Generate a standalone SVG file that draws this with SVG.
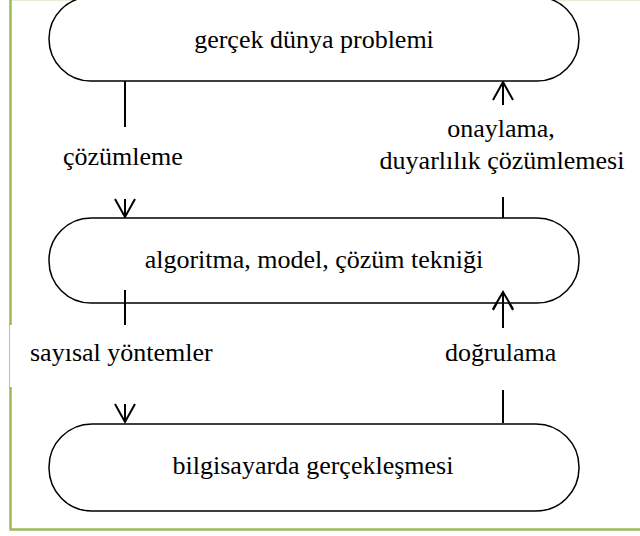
<svg xmlns="http://www.w3.org/2000/svg" width="640" height="536" viewBox="0 0 640 536">
  <defs>
    <style>
      .box { fill: #ffffff; stroke: #000000; stroke-width: 1.5; }
      .wire { stroke: #000000; stroke-width: 2; fill: none; }
      .frame { fill: none; stroke: #9bbb59; stroke-width: 2.5; }
    </style>
    <marker id="open" viewBox="0 0 20 20" refX="18" refY="10" markerWidth="20" markerHeight="20" markerUnits="userSpaceOnUse" orient="auto" overflow="visible">
      <path d="M0,0 L18,10 L0,20" fill="none" stroke="#000000" stroke-width="2"/>
    </marker>
  </defs>

  <rect width="640" height="536" fill="#ffffff"/>

  <!-- outer frame -->
  <rect class="frame" x="10.5" y="-1" width="700" height="530.5"/>

  <!-- connectors -->
  <g id="connectors">
    <!-- analysis: problem -> algorithm -->
    <line class="wire" x1="125" y1="81" x2="125" y2="127"/>
    <line class="wire" x1="125" y1="199" x2="125" y2="217" marker-end="url(#open)"/>
    <!-- validation: algorithm -> problem -->
    <line class="wire" x1="503" y1="218" x2="503" y2="197"/>
    <line class="wire" x1="503" y1="105" x2="503" y2="82" marker-end="url(#open)"/>
    <!-- numerical methods: algorithm -> implementation -->
    <line class="wire" x1="125" y1="290" x2="125" y2="325"/>
    <line class="wire" x1="125" y1="404" x2="125" y2="422" marker-end="url(#open)"/>
    <!-- verification: implementation -> algorithm -->
    <line class="wire" x1="503" y1="423" x2="503" y2="390"/>
    <line class="wire" x1="503" y1="328" x2="503" y2="292" marker-end="url(#open)"/>
  </g>

  <g font-family="Liberation Serif" font-size="26" fill="#000000">
    <!-- connector labels -->
    <g id="labels">
      <text x="63" y="165">çözümleme</text>
      <text x="501" y="137" text-anchor="middle">onaylama,</text>
      <text x="502" y="169" text-anchor="middle">duyarlılık çözümlemesi</text>
      <rect x="10" y="325" width="200" height="62" fill="#ffffff"/>
      <text x="30" y="361">sayısal yöntemler</text>
      <text x="445" y="361">doğrulama</text>
    </g>

    <g id="problem">
      <rect class="box" x="49" y="-3" width="530" height="84" rx="42" ry="42"/>
      <text x="314" y="48" text-anchor="middle">gerçek dünya problemi</text>
    </g>

    <g id="algorithm">
      <rect class="box" x="49" y="218" width="530" height="85" rx="42" ry="42"/>
      <text x="314" y="268" text-anchor="middle">algoritma, model, çözüm tekniği</text>
    </g>

    <g id="implementation">
      <rect class="box" x="49" y="424" width="530" height="87" rx="43" ry="43"/>
      <text x="313" y="474" text-anchor="middle">bilgisayarda gerçekleşmesi</text>
    </g>
  </g>

  <!-- stubs that cross the middle box's lower edge -->
  <g id="edge-stubs">
    <line class="wire" x1="125" y1="290" x2="125" y2="303"/>
    <line class="wire" x1="503" y1="294" x2="503" y2="303"/>
    <path d="M493,309 L503,292 L513,309" fill="none" stroke="#000000" stroke-width="2"/>
  </g>
</svg>
